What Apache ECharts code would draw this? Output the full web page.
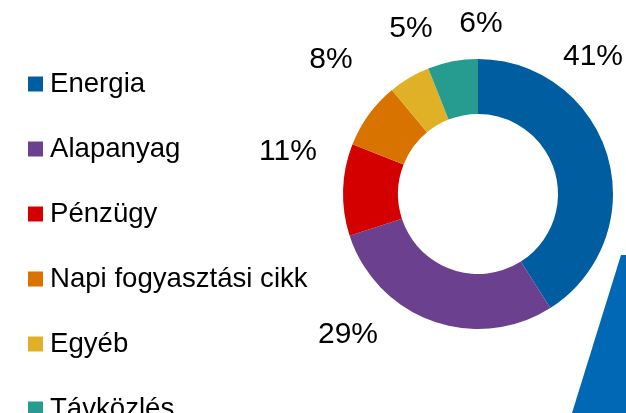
<!DOCTYPE html>
<html>
<head>
    <meta charset="utf-8">
    <title>Ágazati megoszlás</title>
    <script src="https://cdn.jsdelivr.net/npm/echarts@6/dist/echarts.min.js"></script>
    <style>
        html, body { margin: 0; padding: 0; background: #fff; }
    </style>
</head>
<body>
<div id="main" style="width: 626px;height:413px;"></div>
<script type="text/javascript">

    // kategóriák és arányok (%)
    var categories = ['Energia', 'Alapanyag', 'Pénzügy', 'Napi fogyasztási cikk', 'Egyéb', 'Távközlés'];
    var values = [41, 29, 11, 8, 5, 6];
    var colors = ['#005DA0', '#6B418F', '#D40000', '#D97300', '#E0B126', '#269B90'];

    // címkék helye (ahogy az eredeti ábrán állnak)
    var labelAnchors = [[593, 56], [348, 334], [288, 151], [331, 59], [411, 28], [481, 23]];

    var myChart = echarts.init(document.getElementById('main'));

    var pieData = [];
    for (let j = 0; j < categories.length; j++) {
        pieData.push({name: categories[j], value: values[j], itemStyle: {color: colors[j]}});
    }

    var option = {
        animation: false,
        textStyle: {fontFamily: 'Liberation Sans, Arial, sans-serif'},
        legend: {
            orient: 'vertical',
            left: 28,
            top: 70,
            height: 420,
            padding: 0,
            itemWidth: 15,
            itemHeight: 15,
            itemGap: 37,
            icon: 'rect',
            textStyle: {
                fontSize: 27.6,
                lineHeight: 27,
                color: '#000',
                padding: [0, 0, 0, 2]
            },
            data: categories
        },
        // díszítő kék sáv jobb alul
        graphic: [{
            type: 'polygon',
            silent: true,
            z: -1,
            shape: {points: [[572, 413], [621, 255], [626, 255], [626, 413]]},
            style: {fill: '#0068B4'}
        }],
        series: [{
            name: 'Megoszlás',
            type: 'pie',
            center: [478, 194],
            radius: [80, 135],
            startAngle: 90,
            clockwise: true,
            avoidLabelOverlap: false,
            label: {
                show: true,
                position: 'outside',
                formatter: '{c}%',
                fontSize: 30,
                color: '#000'
            },
            labelLine: {show: false},
            labelLayout: function (params) {
                var p = labelAnchors[params.dataIndex];
                return {x: p[0], y: p[1] + 1, align: 'center', verticalAlign: 'middle'};
            },
            itemStyle: {borderWidth: 0},
            data: pieData
        }]
    };

    myChart.setOption(option);
</script>
</body>
</html>
